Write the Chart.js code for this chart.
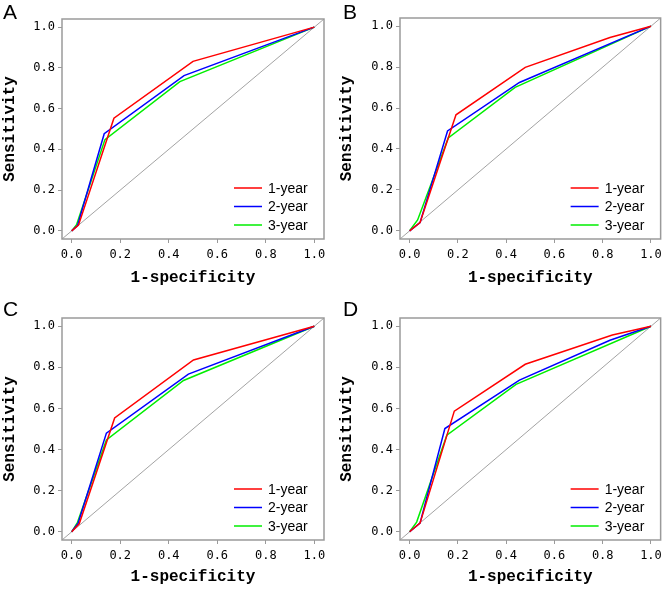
<!DOCTYPE html>
<html>
<head>
<meta charset="utf-8">
<script src="https://cdn.jsdelivr.net/npm/chart.js@4"></script>
<style>
  body { margin: 0; background: #fff; width: 667px; height: 589px; position: relative; overflow: hidden; }
  .panel { position: absolute; }
  .tag { position: absolute; font-family: "Liberation Sans", Arial, sans-serif; font-size: 21px; line-height: 24px; color: #000; }
</style>
</head>
<body>
<canvas id="chartA" class="panel" width="333" height="290" style="left:0;top:0"></canvas>
<canvas id="chartB" class="panel" width="330" height="290" style="left:337px;top:0"></canvas>
<canvas id="chartC" class="panel" width="333" height="294" style="left:0;top:295px"></canvas>
<canvas id="chartD" class="panel" width="330" height="294" style="left:337px;top:295px"></canvas>
<div class="tag" style="left:3px;top:0px">A</div>
<div class="tag" style="left:343px;top:0px">B</div>
<div class="tag" style="left:3px;top:297px">C</div>
<div class="tag" style="left:343px;top:297px">D</div>
<script>
// ROC curves, one list per year (1-year, 2-year, 3-year)
const seriesLabels = ['1-year', '2-year', '3-year'];
const seriesColors = ['#ff0000', '#0000ff', '#00ee00'];
const axisTicks = [0, 0.2, 0.4, 0.6, 0.8, 1.0];
const diagonal = [-0.04, 1.04];

const fprA = [[0, 0.028, 0.174, 0.50, 1], [0, 0.024, 0.134, 0.463, 1], [0, 0.020, 0.137, 0.446, 1]];
const tprA = [[0, 0.028, 0.553, 0.832, 1], [0, 0.026, 0.477, 0.762, 1], [0, 0.030, 0.448, 0.733, 1]];

const fprB = [[0, 0.043, 0.192, 0.479, 0.83, 1], [0, 0.043, 0.157, 0.455, 1], [0, 0.033, 0.160, 0.437, 1]];
const tprB = [[0, 0.040, 0.567, 0.799, 0.945, 1], [0, 0.040, 0.488, 0.725, 1], [0, 0.053, 0.454, 0.701, 1]];

const fprC = [[0, 0.031, 0.177, 0.502, 1], [0, 0.026, 0.143, 0.481, 1], [0, 0.024, 0.143, 0.461, 1]];
const tprC = [[0, 0.039, 0.554, 0.836, 1], [0, 0.040, 0.480, 0.767, 1], [0, 0.046, 0.447, 0.736, 1]];

const fprD = [[0, 0.043, 0.185, 0.479, 0.84, 1], [0, 0.043, 0.146, 0.455, 0.83, 1], [0, 0.029, 0.154, 0.441, 1]];
const tprD = [[0, 0.042, 0.587, 0.815, 0.957, 1], [0, 0.042, 0.502, 0.738, 0.932, 1], [0, 0.047, 0.470, 0.717, 1]];

const tickFont = { family: 'DejaVu Sans Mono', size: 12 };
const titleFont = { family: 'Liberation Mono', size: 16, weight: 'bold' };

// box around the plot area plus the legend in the lower right corner
const boxAndLegend = {
  id: 'boxAndLegend',
  afterDatasetsDraw(chart) {
    const { ctx, chartArea } = chart;
    ctx.save();
    ctx.strokeStyle = '#9a9a9a';
    ctx.lineWidth = 1.5;
    ctx.strokeRect(chartArea.left, chartArea.top, chartArea.right - chartArea.left, chartArea.bottom - chartArea.top);
    ctx.font = '14px "Liberation Sans", Arial, sans-serif';
    ctx.textBaseline = 'middle';
    ctx.fillStyle = '#000';
    seriesLabels.forEach((lab, i) => {
      const y = chartArea.bottom - 51 + i * 18.5;
      ctx.strokeStyle = seriesColors[i];
      ctx.lineWidth = 1.5;
      ctx.beginPath();
      ctx.moveTo(chartArea.right - 90, y);
      ctx.lineTo(chartArea.right - 62, y);
      ctx.stroke();
      ctx.fillText(lab, chartArea.right - 56, y + 1);
    });
    ctx.restore();
  }
};

function makeChart(id, fpr, tpr, yWidth, xHeight, padTop, padRight) {
  const datasets = seriesLabels.map((lab, i) => ({
    label: lab,
    data: fpr[i].map((x, j) => ({ x: x, y: tpr[i][j] })),
    borderColor: seriesColors[i],
    borderWidth: 1.5,
    pointRadius: 0,
    tension: 0
  }));
  datasets.push({
    label: 'reference',
    data: diagonal.map(v => ({ x: v, y: v })),
    borderColor: '#8c8c8c',
    borderWidth: 0.8,
    pointRadius: 0
  });

  new Chart(document.getElementById(id), {
    type: 'line',
    data: { datasets: datasets },
    options: {
      responsive: false,
      animation: false,
      layout: { padding: { top: padTop, right: padRight, left: 0, bottom: 0 } },
      plugins: { legend: { display: false }, tooltip: { enabled: false } },
      scales: {
        x: {
          type: 'linear', min: -0.04, max: 1.04,
          afterBuildTicks: s => { s.ticks = axisTicks.map(v => ({ value: v })); },
          afterFit: s => { s.height = xHeight; },
          ticks: { font: tickFont, color: '#000', padding: 5, maxRotation: 0, callback: v => v.toFixed(1) },
          grid: { drawOnChartArea: false, tickLength: 4, color: '#9a9a9a' },
          border: { display: false },
          title: { display: true, text: '1-specificity', font: titleFont, color: '#000', padding: { top: 0, bottom: 2 } }
        },
        y: {
          type: 'linear', min: -0.04, max: 1.04,
          afterBuildTicks: s => { s.ticks = axisTicks.map(v => ({ value: v })); },
          afterFit: s => { s.width = yWidth; },
          ticks: { font: tickFont, color: '#000', padding: 3, callback: v => v.toFixed(1) },
          grid: { drawOnChartArea: false, tickLength: 4, color: '#9a9a9a' },
          border: { display: false },
          title: { display: true, text: 'Sensitivity', font: titleFont, color: '#000', padding: { top: 0, bottom: 0 } }
        }
      }
    },
    plugins: [boxAndLegend]
  });
}

makeChart('chartA', fprA, tprA, 62, 51, 19, 9);
makeChart('chartB', fprB, tprB, 63, 51, 18, 5);
makeChart('chartC', fprC, tprC, 62, 49, 23, 9);
makeChart('chartD', fprD, tprD, 63, 49, 23, 5);
</script>
</body>
</html>
